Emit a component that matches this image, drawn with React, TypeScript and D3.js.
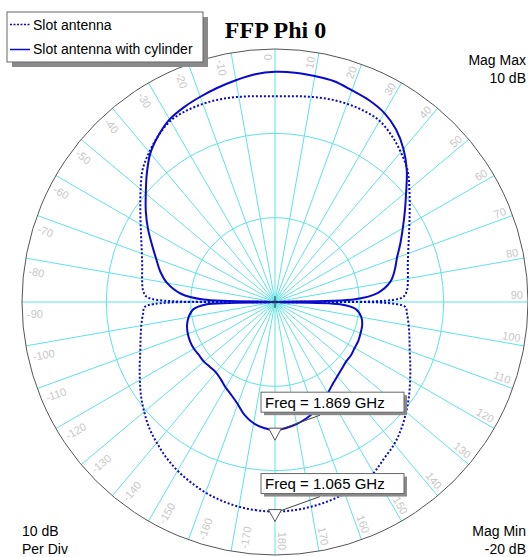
import React from 'react';
import * as d3 from 'd3';

// ---------- data ----------
const seriesNames = ['Slot antenna', 'Slot antenna with cylinder'];

const anglesDeg = [
  -180, -175, -170, -165, -160, -155, -150, -145, -140, -135, -130, -125, -120, -115, -110, -105, -100, -95, -92, -90,
  -88, -85, -80, -75, -70, -65, -60, -55, -50, -45, -40, -35, -30, -25, -20, -15, -10, -5,
  0, 5, 10, 15, 20, 25, 30, 35, 40, 45, 50, 55, 60, 65, 70, 75, 80, 85, 88, 90,
  92, 95, 100, 105, 110, 115, 120, 125, 130, 135, 140, 145, 150, 155, 160, 165, 170, 175,
];

// Slot antenna (dotted), dB
const slotDb = [
  4.85, 4.8, 4.65, 4.4, 4.05, 3.6, 3.1, 2.5, 1.8, 1.1, 0.25, -0.6, -1.5, -2.3, -3.0, -3.5, -3.9, -4.3, -4.6, -30,
  -4.9, -4.3, -4.0, -3.7, -3.2, -2.5, -1.6, -0.5, 0.8, 2.2, 3.2, 4.1, 4.8, 5.0, 5.0, 4.9, 4.7, 4.5,
  4.4, 4.5, 4.7, 4.9, 5.0, 5.0, 4.8, 4.1, 3.2, 2.2, 0.8, -0.5, -1.6, -2.5, -3.2, -3.7, -4.0, -4.3, -4.9, -30,
  -4.6, -4.3, -3.9, -3.5, -3.0, -2.3, -1.5, -0.6, 0.3, 1.2, 2.0, 2.6, 3.4, 4.0, 4.2, 4.45, 4.65, 4.8,
];

// Slot antenna with cylinder (solid), dB
const cylDb = [
  -4.8, -5.0, -5.4, -6.1, -7.1, -7.8, -8.3, -8.8, -9.1, -9.1, -9.0, -9.0, -8.9, -8.9, -9.0, -9.2, -9.6, -10.3, -11.8, -30,
  -11.5, -8.8, -7.0, -5.9, -5.0, -3.9, -2.6, -1.3, 0.0, 1.5, 3.0, 4.1, 5.0, 5.5, 5.9, 6.3, 6.7, 7.1,
  7.3, 7.3, 7.2, 7.1, 6.7, 6.4, 5.9, 5.0, 3.7, 2.1, 0.3, -1.2, -2.5, -3.6, -4.6, -5.3, -6.1, -7.8, -10.5, -30,
  -12.3, -10.4, -9.6, -9.3, -9.2, -9.1, -9.1, -9.0, -9.0, -8.8, -8.5, -8.1, -7.5, -6.9, -6.2, -5.7, -5.3, -5.0,
];

const magMax = 10;
const magMin = -20;
const perDiv = 10;
const ringDb = [-10, 0, 10];
const angleTicks = [
  0, 10, 20, 30, 40, 50, 60, 70, 80, 90, 100, 110, 120, 130, 140, 150, 160, 170, 180,
  -10, -20, -30, -40, -50, -60, -70, -80, -90, -100, -110, -120, -130, -140, -150, -160, -170,
];

const markerLabels = ['Freq = 1.869 GHz', 'Freq = 1.065 GHz'];
const markerAngles = [180, 180];
const markerSeriesIdx = [1, 0];

const title = 'FFP Phi 0';

// ---------- component ----------
export default function App() {
  const W = 528, H = 557;
  const cx = 275, cy = 302, R = 253;
  const grid = '#5ee3e3';
  const blue = '#0a0acc';
  const sans = 'Arial, "Liberation Sans", sans-serif';

  const rScale = d3.scaleLinear().domain([magMin, magMax]).range([0, R]).clamp(true);
  const rad = (d: number) => (d * Math.PI) / 180;

  const line = d3
    .lineRadial<[number, number]>()
    .angle((d) => rad(d[0]))
    .radius((d) => rScale(d[1]))
    .curve(d3.curveCatmullRomClosed.alpha(0.5));

  const seriesData = [slotDb, cylDb];
  const paths = seriesData.map((vals) => line(anglesDeg.map((a, i) => [a, vals[i]] as [number, number])));

  const norm = (a: number) => ((((a + 180) % 360) + 360) % 360) - 180;
  const markerPts = markerAngles.map((a, k) => {
    const idx = anglesDeg.indexOf(norm(a));
    const v = seriesData[markerSeriesIdx[k]][idx];
    const rr = rScale(v);
    return { x: cx + rr * Math.sin(rad(a)), y: cy - rr * Math.cos(rad(a)) };
  });

  return (
    <svg
      width={W}
      height={H}
      viewBox={`0 0 ${W} ${H}`}
      style={{ position: 'absolute', left: 0, top: 0, background: '#fff' }}
    >
      <rect x={0} y={0} width={W} height={H} fill="#fff" />
      <g transform={`translate(${cx},${cy})`}>
        {/* spokes */}
        {angleTicks.map((a) => (
          <line
            key={'s' + a}
            x1={0}
            y1={0}
            x2={R * Math.sin(rad(a))}
            y2={-R * Math.cos(rad(a))}
            stroke={grid}
            strokeWidth={1}
          />
        ))}
        {/* rings */}
        {ringDb.slice(0, -1).map((v) => (
          <circle key={'r' + v} r={rScale(v)} fill="none" stroke={grid} strokeWidth={1} />
        ))}
        <circle r={rScale(magMax)} fill="none" stroke="#555" strokeWidth={1} />
        {/* angle labels */}
        {angleTicks.map((a) => {
          const right = a >= 0 && a <= 180;
          return (
            <g key={'l' + a} transform={`rotate(${right ? a - 90 : a + 90})`}>
              <text
                x={right ? R - 5 : -(R - 5)}
                y={right ? -3 : 16}
                textAnchor={right ? 'end' : 'start'}
                fontFamily={sans}
                fontSize={11}
                fill="#c8c8c8"
              >
                {String(a)}
              </text>
            </g>
          );
        })}
        {/* curves */}
        <path d={paths[0] || ''} fill="none" stroke={blue} strokeWidth={2} strokeDasharray="2,2" />
        <path d={paths[1] || ''} fill="none" stroke={blue} strokeWidth={2} />
        {/* center cross */}
        <line x1={-6} y1={0} x2={6} y2={0} stroke="#333" strokeWidth={1} />
        <line x1={0} y1={-6} x2={0} y2={6} stroke="#333" strokeWidth={1} />
      </g>

      {/* markers */}
      {markerPts.map((p, k) => {
        const bx = p.x - 14;
        const by = p.y - 38;
        const bw = 143;
        const bh = 20;
        return (
          <g key={'m' + k}>
            <line x1={bx + 59} y1={by + bh + 3} x2={p.x + 6} y2={p.y - 1} stroke="#444" strokeWidth={1} />
            <polygon
              points={`${p.x - 6.5},${p.y - 2} ${p.x + 6.5},${p.y - 2} ${p.x},${p.y + 10}`}
              fill="#fff"
              stroke="#555"
              strokeWidth={1}
            />
            <rect x={bx + 3} y={by + 3} width={bw} height={bh} fill="#8a8a8a" />
            <rect x={bx} y={by} width={bw} height={bh} fill="#fff" stroke="#666" strokeWidth={1} />
            <text x={bx + 4} y={by + 15.5} fontFamily={sans} fontSize={15} fill="#000">
              {markerLabels[k]}
            </text>
          </g>
        );
      })}

      {/* legend */}
      <rect x={12} y={17} width={196} height={50} fill="#8a8a8a" />
      <rect x={7} y={12} width={196} height={50} fill="#fff" stroke="#666" strokeWidth={1} />
      <line x1={10} y1={24.5} x2={30} y2={24.5} stroke={blue} strokeWidth={1.5} strokeDasharray="2,1.5" />
      <text x={33} y={29.5} fontFamily={sans} fontSize={14} fill="#000">
        {seriesNames[0]}
      </text>
      <line x1={10} y1={49.5} x2={30} y2={49.5} stroke={blue} strokeWidth={1.5} />
      <text x={33} y={53.5} fontFamily={sans} fontSize={14} fill="#000">
        {seriesNames[1]}
      </text>

      {/* title */}
      <text
        x={275.5}
        y={38}
        textAnchor="middle"
        fontFamily={'"Times New Roman", "Liberation Serif", serif'}
        fontWeight="bold"
        fontSize={24}
        fill="#000"
      >
        {title}
      </text>

      {/* corner annotations */}
      <text x={526} y={65} textAnchor="end" fontFamily={sans} fontSize={14} fill="#000">
        Mag Max
      </text>
      <text x={526} y={83} textAnchor="end" fontFamily={sans} fontSize={14} fill="#000">
        {`${magMax} dB`}
      </text>
      <text x={22} y={536} fontFamily={sans} fontSize={14} fill="#000">
        {`${perDiv} dB`}
      </text>
      <text x={22} y={554} fontFamily={sans} fontSize={14} fill="#000">
        Per Div
      </text>
      <text x={526} y={536} textAnchor="end" fontFamily={sans} fontSize={14} fill="#000">
        Mag Min
      </text>
      <text x={526} y={554} textAnchor="end" fontFamily={sans} fontSize={14} fill="#000">
        {`${magMin} dB`}
      </text>
    </svg>
  );
}
